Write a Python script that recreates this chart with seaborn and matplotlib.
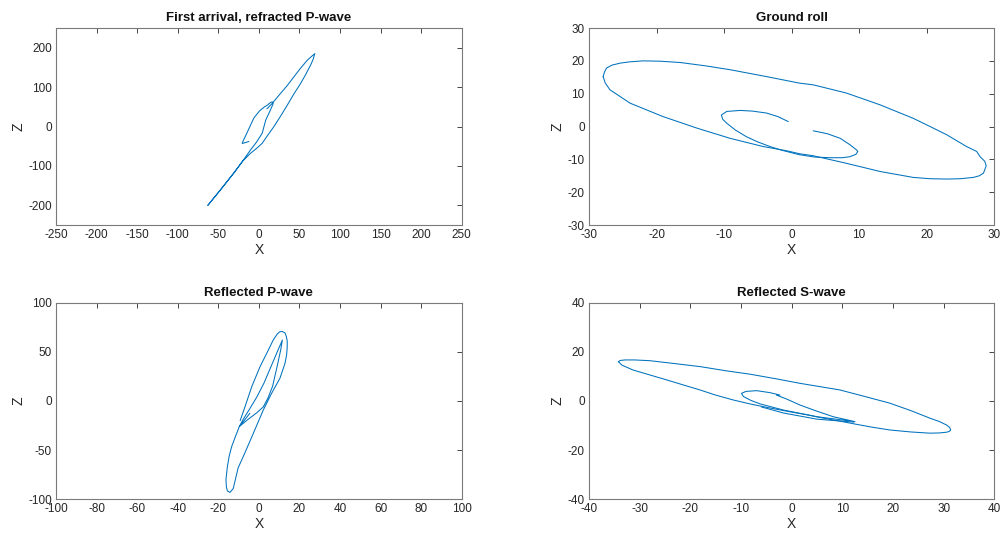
import numpy as np
import pandas as pd
import matplotlib
matplotlib.use("Agg")
import matplotlib.pyplot as plt
import seaborn as sns

# Particle-motion hodograms (horizontal X vs vertical Z) for four wave types.

# First arrival, refracted P-wave
p1_x = [-12.3, -17, -20.5, -19, -15, -11, -6, 1, 7, 10.4, 14.5, 16.5, 17.7, 16, 12.3, 8.5, 4.2, -3,
        -10.2, -20, -30.8, -47, -62.8, -47, -30.8, -20, -10.2, -3, 4.2, 11, 18.5, 27, 35, 43,
        51.4, 58, 63.7, 67, 69, 65, 59.6, 51, 43.1, 35, 26.7, 16.5, 10]
p1_z = [-38, -41, -43, -35, -18, 0, 22, 40, 50, 54, 61, 62.7, 58, 50, 33, 16.4, -17, -40,
        -59.4, -88, -118, -160, -200, -160, -118, -88, -67.8, -56, -42.5, -22, -0.5, 27, 54, 82,
        109, 133, 155.4, 171, 185, 178, 168, 147, 125.8, 104, 84, 58.6, 45]

# Ground roll: inner spiral and outer ellipse
gr_inner_x = [-0.5, -2, -3.7, -5.8, -7.6, -9.6, -10.4, -10.2, -9.6, -8.3, -6.7, -5, -3.2, -1.5, 0.2,
              1.2, 3.4, 5.7, 7.5, 8.6, 9.5, 9.8, 9.6, 8.6, 7.2, 5.3, 3.2]
gr_inner_z = [1.5, 3.0, 4.1, 4.7, 4.9, 4.6, 3.5, 2.2, 1.0, -1.1, -3.1, -4.7, -6.1, -7.2, -8.1,
              -8.6, -9.3, -9.5, -9.5, -9.2, -8.5, -7.6, -7.1, -5.5, -3.6, -2.2, -1.3]
gr_outer_x = [-27.9, -27.7, -27.4, -26.6, -25.4, -24, -22, -19.5, -16.5, -12.8, -9.1, -3.7, 1.2, 3.2,
              8.1, 13.1, 18, 20.5, 22.95, 25.9, 27.4, 27.9, 28.6, 28.8, 28.4, 27.8, 26.9, 25, 23, 20.5,
              18, 13.1, 8.1, 3.2, 1.2, -0.7, -4.2, -9.1, -14, -19, -23.9, -26.9, -27.6, -27.9]
gr_outer_z = [15.2, 16.6, 17.8, 18.7, 19.3, 19.7, 20.0, 19.9, 19.5, 18.5, 17.3, 15.2, 13.2, 12.7,
              10.2, 6.6, 2.5, 0.0, -2.5, -6.1, -7.6, -9.2, -10.6, -12.0, -14.2, -15.0, -15.5, -15.9, -16.0,
              -15.9, -15.5, -13.7, -11.2, -8.9, -8.3, -7.4, -6.1, -3.6, -0.5, 3.0, 7.1, 11.2, 13.3, 15.2]

# Reflected P-wave
p3_x = [-4.4, -9.6, -5.5, -1, 2.2, 4.5, 6.8, 9, 10.8, 11.6, 9.5, 6, 2.5, -1, -4.5, -7.5, -9.6,
        -11.5, -13.4, -14.6, -15.5, -16.2, -16, -15.5, -14.2, -12.6, -10.2, -7.7, -2.7, 2.2, 6.3,
        10.4, 12.9, 13.7, 14, 14, 13.6, 12.9, 11.7, 10.4, 9.1, 7.1, 3.9, 0.6, -3.5, -6.8, -9.2]
p3_z = [-12.5, -26, -19, -12, -6, 3, 15, 35, 52, 62, 52, 35, 18, 4, -8, -18, -26,
        -36, -46.5, -56, -66.8, -80, -87.2, -91.5, -93, -89, -68, -56.7, -32.9, -9.2, 7.8,
        23.1, 38.3, 47, 55.2, 61, 65.4, 69.2, 70.6, 70.5, 68.2, 62, 48.5, 34.9, 14.5, -5.8, -20]

# Reflected S-wave: inner loop, its second lower strand, and the outer ellipse
s_inner_x = [-2.3, -4.3, -6.9, -9.0, -9.9, -9.5, -8.0, -6.2, -1.6, 5.0, 12.5, 8.2, 4.5, 1.6, -1.0, -3.0]
s_inner_z = [2.4, 3.4, 4.2, 3.9, 3.1, 1.8, 0.2, -1.2, -3.7, -6.4, -8.4, -6.4, -3.8, -1.6, 0.8, 2.4]
s_strand_x = [-6.0, -1.6, 5.0, 12.3]
s_strand_z = [-2.4, -4.9, -7.4, -8.6]
s_outer_x = [-34.2, -33.8, -32.9, -31, -28, -23, -18.1, -13, -8.2, -3, 1.6, 9.5, 14.5, 19.4, 23.5,
             27.3, 29.2, 30.6, 31.2, 31.4, 31.1, 30.6, 29.2, 27.3, 23.5, 19.4, 16, 12.8, 9.5, 6.3, 3,
             -0.3, -4.9, -8.2, -11.5, -15, -18.1, -21.5, -24.7, -28, -31.3, -33.5, -34.2]
s_outer_z = [16.0, 16.5, 16.7, 16.7, 16.4, 15.2, 14.0, 12.3, 10.9, 9.0, 7.2, 4.5, 1.8, -0.9, -3.9,
             -7.0, -8.4, -9.8, -10.8, -11.8, -12.4, -12.7, -13.0, -13.1, -12.6, -11.8, -10.7, -9.5, -8.2, -7.0, -5.6,
             -4.4, -2.6, -1.2, 0.4, 2.4, 4.5, 6.6, 8.6, 10.6, 12.6, 14.6, 16.0]

titles = ["First arrival, refracted P-wave", "Ground roll", "Reflected P-wave", "Reflected S-wave"]


def frame(segments):
    rows = []
    for k, (xs, zs) in enumerate(segments):
        for i, (x, z) in enumerate(zip(xs, zs)):
            rows.append({"X": x, "Z": z, "seg": k, "order": i})
    return pd.DataFrame(rows)


panels = [
    dict(df=frame([(p1_x, p1_z)]), xlim=(-250, 250), ylim=(-250, 250),
         xt=np.arange(-250, 251, 50), yt=np.arange(-200, 201, 100)),
    dict(df=frame([(gr_inner_x, gr_inner_z), (gr_outer_x, gr_outer_z)]), xlim=(-30, 30), ylim=(-30, 30),
         xt=np.arange(-30, 31, 10), yt=np.arange(-30, 31, 10)),
    dict(df=frame([(p3_x, p3_z)]), xlim=(-100, 100), ylim=(-100, 100),
         xt=np.arange(-100, 101, 20), yt=np.arange(-100, 101, 50)),
    dict(df=frame([(s_inner_x, s_inner_z), (s_strand_x, s_strand_z), (s_outer_x, s_outer_z)]),
         xlim=(-40, 40), ylim=(-40, 40),
         xt=np.arange(-40, 41, 10), yt=np.arange(-40, 41, 20)),
]

sns.set_theme(style="white")
plt.rcParams["font.family"] = ["Liberation Sans", "DejaVu Sans"]
plt.rcParams["axes.unicode_minus"] = False

fig = plt.figure(figsize=(10.03, 5.36), dpi=100)
boxes = [
    [0.0558, 0.5802, 0.4045, 0.3675],
    [0.5872, 0.5802, 0.4041, 0.3675],
    [0.0558, 0.0685, 0.4045, 0.3668],
    [0.5872, 0.0685, 0.4041, 0.3668],
]

line_color = "#0072BD"
frame_color = "#262626"

for box, p, title in zip(boxes, panels, titles):
    ax = fig.add_axes(box)
    sns.lineplot(data=p["df"], x="X", y="Z", units="seg", estimator=None, sort=False,
                 color=line_color, linewidth=0.75, ax=ax)
    ax.set_xlim(*p["xlim"])
    ax.set_ylim(*p["ylim"])
    ax.set_xticks(p["xt"])
    ax.set_yticks(p["yt"])
    ax.tick_params(direction="in", length=3.5, width=0.6, colors=frame_color, labelsize=8.5,
                   top=True, right=True, pad=3)
    ax.tick_params(axis="both", labelcolor=frame_color)
    for s in ax.spines.values():
        s.set_visible(True)
        s.set_color("#7a7a7a")
        s.set_linewidth(0.8)
    ax.set_xlabel("X", fontsize=10, color=frame_color, labelpad=1)
    ax.set_ylabel("Z", fontsize=10, color=frame_color, labelpad=2)
    ax.set_title(title, fontsize=9.5, fontweight="bold", color="#111111", pad=5)

fig.savefig("out.png", dpi=100, facecolor="white")
